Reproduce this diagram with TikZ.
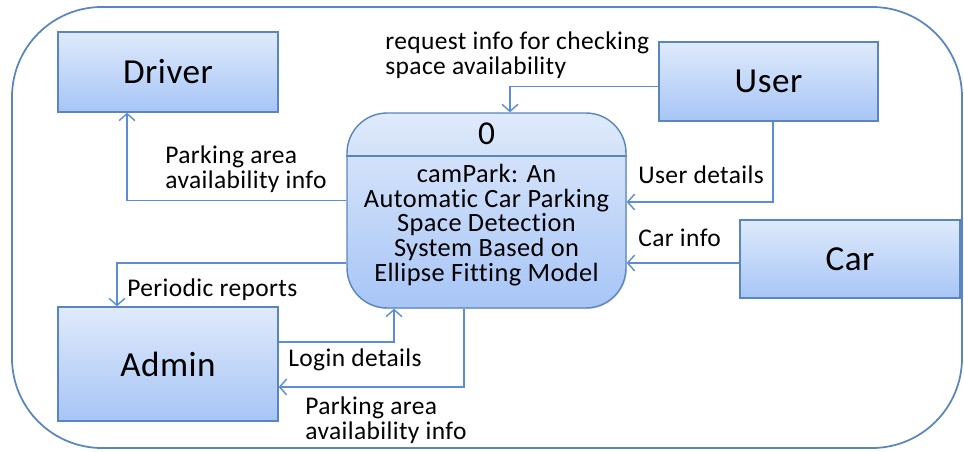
\documentclass[tikz,border=0pt]{standalone}
\usepackage{fontspec}
\setmainfont[Ligatures=NoCommon, LetterSpace=1.5]{Carlito}
\usetikzlibrary{shapes,backgrounds,shadows}
\usetikzlibrary{arrows,arrows.meta}
\definecolor{boxtop}{HTML}{DFEAFB}
\definecolor{boxbottom}{HTML}{A7C5F6}
\definecolor{boxline}{HTML}{5A86C0}
\definecolor{flowline}{HTML}{5B8ED6}
\tikzset{
	entity/.style={rectangle, draw=boxline, line width=0.8pt, top color=boxtop, bottom color=boxbottom, inner sep=0pt, font=\fontsize{20}{22}\selectfont, drop shadow={opacity=0.25, shadow xshift=0.6pt, shadow yshift=-0.6pt}},
	process/.style={entity, rounded corners=0.8cm},
	flow/.style={draw=flowline, line width=0.8pt, -{Straight Barb[length=4pt, width=9pt]}},
	lbl/.style={anchor=west, align=left, inner sep=0pt, font=\fontsize{14.5}{14}\selectfont}
}

\begin{document}
\begin{tikzpicture}[x=0.02cm, y=-0.02cm]
	\useasboundingbox (0,0) rectangle (964,452);
	\draw[boxline, line width=1pt, rounded corners=1.8cm] (12,7) rectangle (962,448);

	\node[entity, minimum width=4.4cm, minimum height=1.6cm] (driver) at (168,72) {Driver};
	\node[entity, minimum width=4.38cm, minimum height=1.58cm] (user) at (768.5,81.5) {User};
	\node[entity, minimum width=4.4cm, minimum height=1.56cm] (car) at (850,259) {Car};
	\node[entity, minimum width=4.4cm, minimum height=2.28cm] (admin) at (168,364) {Admin};
	\node[process, minimum width=5.58cm, minimum height=3.9cm] (proc) at (486.5,210.5) {};
	\draw[boxline, line width=0.8pt] (proc.west |- 0,156) -- (proc.east |- 0,156);
	\node[font=\fontsize{19}{20}\selectfont] (procnum) at (486.5,134) {0};
	\node[align=center, font=\fontsize{15}{14}\selectfont] (proctext) at (486.5,225) {camPark: An\\Automatic Car Parking\\Space Detection\\System Based on\\Ellipse Fitting Model};

	\draw[flow] ([yshift=-0.1cm]user.west) -| ([xshift=0.47cm]proc.north);
	\draw[flow] ([yshift=0.2cm]proc.west) -| ([xshift=-0.82cm]driver.south);
	\draw[flow] ([xshift=0.09cm]user.south) |- ([yshift=0.17cm]proc.east);
	\draw[flow] ([yshift=-0.08cm]car.west) -- ([yshift=-0.08cm]car.west -| proc.east);
	\draw[flow] ([yshift=-1.05cm]proc.west) -| ([xshift=-1.02cm]admin.north);
	\draw[flow] ([yshift=0.44cm]admin.east) -| ([xshift=-1.85cm]proc.south);
	\draw[flow] ([xshift=-0.45cm]proc.south) |- ([yshift=-0.46cm]admin.east);

	\node[lbl] (reqlbl) at (385,55.5) {request info for checking\\space availability};
	\node[lbl] (drvlbl) at (165,169) {Parking area\\availability info};
	\node[lbl] (userlbl) at (638,175) {User details};
	\node[lbl] (carlbl) at (638,238) {Car info};
	\node[lbl] (perlbl) at (127,290) {Periodic reports};
	\node[lbl] (loglbl) at (288,360) {Login details};
	\node[lbl] (admlbl) at (305,420) {Parking area\\availability info};
\end{tikzpicture}
\end{document}
